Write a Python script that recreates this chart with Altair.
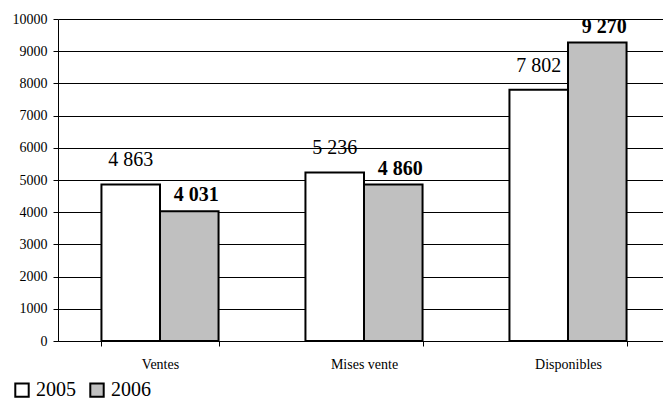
import altair as alt
import pandas as pd

categories = ["Ventes", "Mises vente", "Disponibles"]
years = ["2005", "2006"]
values_2005 = [4863, 5236, 7802]
values_2006 = [4031, 4860, 9270]

rows = []
for cat, v05, v06 in zip(categories, values_2005, values_2006):
    rows.append({"cat": cat, "year": "2005", "value": v05})
    rows.append({"cat": cat, "year": "2006", "value": v06})
df = pd.DataFrame(rows)
df["label"] = df["value"].map(lambda v: f"{v:,}".replace(",", " "))

FONT = "'Times New Roman', 'Liberation Serif', serif"

x_enc = alt.X(
    "cat:N",
    sort=categories,
    title=None,
    scale=alt.Scale(range=[0, 612], paddingInner=0.426, paddingOuter=0.213),
    axis=alt.Axis(
        labelAngle=0,
        labelFont=FONT,
        labelFontSize=14,
        labelColor="black",
        labelPadding=11,
        tickBand="extent",
        tickSize=5,
        tickColor="black",
        domainColor="black",
        grid=False,
    ),
)
y_enc = alt.Y(
    "value:Q",
    title=None,
    scale=alt.Scale(domain=[0, 10000], nice=False),
    axis=alt.Axis(
        values=list(range(0, 10001, 1000)),
        format="d",
        labelFont=FONT,
        labelFontSize=14,
        labelColor="black",
        labelPadding=6,
        tickSize=5,
        tickColor="black",
        domainColor="black",
        gridColor="black",
        gridOpacity=1,
        gridWidth=1,
    ),
)
x_off = alt.XOffset("year:N", sort=years, scale=alt.Scale(paddingInner=0))

bars = alt.Chart(df).mark_bar(stroke="black", strokeWidth=2).encode(
    x=x_enc,
    y=y_enc,
    xOffset=x_off,
    fill=alt.Fill(
        "year:N",
        sort=years,
        scale=alt.Scale(domain=years, range=["white", "#c0c0c0"]),
        legend=alt.Legend(
            title=None,
            orient="none",
            direction="horizontal",
            legendX=-46,
            legendY=361,
            padding=0,
            symbolType="square",
            symbolSize=180,
            symbolStrokeColor="black",
            symbolStrokeWidth=2,
            labelFont=FONT,
            labelFontSize=20,
            labelColor="black",
            labelOffset=4,
            columnPadding=10,
        ),
    ),
)

labels_2005 = alt.Chart(df).transform_filter(alt.datum.year == "2005").mark_text(
    font=FONT, fontSize=20, color="black", baseline="alphabetic", dy=-18
).encode(x=x_enc, y=y_enc, xOffset=x_off, text="label:N")

labels_2006 = alt.Chart(df).transform_filter(alt.datum.year == "2006").mark_text(
    font=FONT, fontSize=20, fontWeight="bold", color="black", baseline="alphabetic",
    dy=-10, dx=7
).encode(x=x_enc, y=y_enc, xOffset=x_off, text="label:N")

chart = (
    alt.layer(bars, labels_2005, labels_2006)
    .properties(
        width=605,
        height=322,
        autosize=alt.AutoSizeParams(type="none"),
        padding={"left": 58, "top": 19, "right": 0, "bottom": 58},
        background="white",
    )
    .configure(font=FONT)
    .configure_view(stroke=None)
)

chart.save("out.html", embed_options={"renderer": "svg", "actions": False})
